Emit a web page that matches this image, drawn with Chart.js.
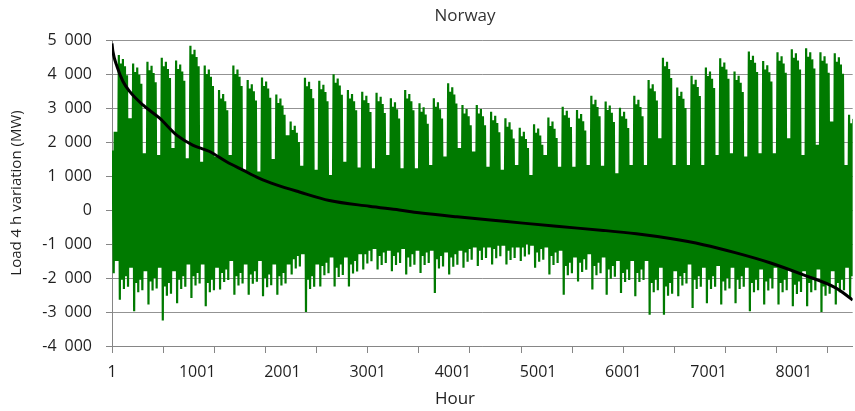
<!DOCTYPE html>
<html>
<head>
<meta charset="utf-8">
<title>Norway</title>
<script src="https://cdn.jsdelivr.net/npm/chart.js@4/dist/chart.umd.min.js"></script>
<style>
  body { margin: 0; background: #fff; overflow: hidden; }
  #wrap { width: 855px; height: 411px; position: relative; }
</style>
</head>
<body>
<div id="wrap"><canvas id="chart"></canvas></div>
<script>
// Weeks run Monday-Sunday; the year starts on a Friday (week 0 is partial)
const weekPeak = [2350, 4560, 4310, 4360, 4480, 4400, 4830, 4250, 3530, 4250, 3820, 3900, 3400, 2600,
  3890, 3800, 3990, 3530, 3480, 3450, 3290, 3530, 3140, 3290, 3730, 3090, 3090, 2890, 2700, 2420,
  2520, 2720, 3040, 2940, 3360, 3190, 3010, 3360, 3820, 4480, 3600, 3950, 4190, 4460, 4070, 4660,
  4380, 4640, 4730, 4760, 4640, 4610, 2800];
const weekGap = [2300, 2700, 1670, 1620, 1820, 1520, 1420, 1570, 1620, 1180, 1130, 1500, 2200, 1300,
  1180, 1030, 1420, 1250, 1230, 1620, 1230, 1230, 1320, 1570, 1820, 1720, 1270, 1180, 1320, 1030,
  1620, 1270, 1270, 1320, 1300, 1080, 1320, 1320, 2110, 1320, 1320, 1320, 1620, 1670, 1570, 1670,
  1670, 2110, 1620, 1920, 2600, 1320, 2000];
const weekTrough = [-2100, -2640, -2980, -2780, -3250, -2740, -2590, -2830, -2340, -2490, -2490, -2540,
  -2490, -1900, -3000, -2250, -2250, -2250, -1750, -1750, -1800, -1900, -1850, -2440, -1900, -1700,
  -1650, -1600, -1600, -1500, -1700, -1900, -2490, -2100, -2340, -2490, -2440, -2540, -3080, -3080,
  -2540, -2880, -2740, -2780, -2740, -2980, -2780, -2780, -2830, -2830, -3000, -2780, -2590];
const weekLow = [-1800, -2200, -2300, -2250, -2400, -2200, -2100, -2300, -2000, -2100, -2050, -2150,
  -2100, -1600, -2200, -1800, -1850, -1750, -1450, -1500, -1500, -1550, -1500, -1600, -1550, -1400,
  -1350, -1300, -1350, -1250, -1400, -1500, -1800, -1700, -1800, -1900, -2000, -2000, -2300, -2400,
  -2100, -2200, -2200, -2250, -2200, -2300, -2250, -2300, -2350, -2300, -2400, -2300, -2100];
const weekendLow = [-1500, -1700, -1800, -1700, -1800, -1600, -1600, -1700, -1500, -1600, -1500, -1600,
  -1600, -1300, -1600, -1400, -1400, -1300, -1150, -1200, -1150, -1200, -1200, -1250, -1200, -1100,
  -1100, -1050, -1100, -1050, -1100, -1200, -1400, -1300, -1400, -1500, -1500, -1500, -1700, -1800,
  -1600, -1700, -1650, -1700, -1700, -1750, -1700, -1750, -1800, -1750, -1800, -1700, -1600];
// weekday highs below the week's peak, Monday..Friday
const weekdayDrop = [0, 250, 120, 330, 600];
// weekday lows above/below the week's usual low, Monday..Friday (Monday uses the trough)
const weekdayLowShift = [0, 150, -120, 250, -60];

// Sorted (duration) curve
const durHours = [1, 12, 60, 130, 210, 363, 560, 760, 947, 1146, 1345, 1532, 1731, 1930, 2200, 2551,
  3019, 3370, 3603, 4048, 4632, 5217, 5767, 6153, 6551, 6937, 7323, 7720, 8106, 8492, 8691, 8760];
const durValues = [4900, 4660, 4220, 3780, 3480, 3090, 2700, 2200, 1910, 1720, 1420, 1180, 930, 740,
  530, 280, 110, 0, -80, -200, -340, -480, -600, -700, -840, -1020, -1260, -1550, -1900, -2290,
  -2650, -2800];

const xLabelHours = [1, 1001, 2001, 3001, 4001, 5001, 6001, 7001, 8001];
const xTickStep = 200;
const xMarkStep = 600;
const yTicks = [-4000, -3000, -2000, -1000, 0, 1000, 2000, 3000, 4000, 5000];

// one morning high and one evening low per day
const greenPoints = [];
for (let d = 0; d < 365; d++) {
  const w = Math.floor((d + 4) / 7);
  const dow = (d + 4) % 7;
  const weekend = dow >= 5;
  const hi = weekend ? weekGap[w] : weekPeak[w] - weekdayDrop[dow];
  const lo = weekend ? weekendLow[w] : (dow === 0 ? weekTrough[w] : weekLow[w] + weekdayLowShift[dow]);
  greenPoints.push({ x: d * 24 + 9, y: hi }, { x: d * 24 + 21, y: lo });
}
const durPoints = durHours.map((h, i) => ({ x: h, y: durValues[i] }));

const fmt = v => (v < 0 ? '-' : '') + Math.abs(v).toString().replace(/\B(?=(\d{3})+(?!\d))/g, '\u2002');

const FONT = "'Open Sans', sans-serif";
const TEXT = '#1f1f1f';
const GRID = '#939393';

// chart title and x-axis title sit where Excel put them
const textPlugin = {
  id: 'excelText',
  afterDraw(chart) {
    const ctx = chart.ctx;
    ctx.save();
    ctx.textAlign = 'center';
    ctx.textBaseline = 'middle';
    ctx.fillStyle = '#333333';
    ctx.font = "17px " + FONT;
    ctx.fillText('Norway', 465, 16);
    ctx.fillStyle = TEXT;
    ctx.font = "17px " + FONT;
    ctx.fillText('Hour', 455, 399);
    ctx.restore();
  }
};

new Chart(document.getElementById('chart'), {
  type: 'line',
  data: {
    datasets: [
      {
        label: 'Sorted',
        data: durPoints,
        borderColor: '#000000',
        borderWidth: 3,
        pointRadius: 0,
        cubicInterpolationMode: 'monotone',
        order: 0
      },
      {
        label: 'Load 4 h variation',
        data: greenPoints,
        borderColor: '#007a00',
        borderWidth: 2.2,
        pointRadius: 0,
        tension: 0,
        order: 1
      }
    ]
  },
  options: {
    responsive: true,
    maintainAspectRatio: false,
    animation: false,
    events: [],
    layout: { padding: { top: 40, right: 0, left: 0, bottom: 0 } },
    plugins: {
      legend: { display: false },
      tooltip: { enabled: false },
      title: { display: false }
    },
    scales: {
      x: {
        type: 'linear',
        min: 1,
        max: 8691,
        afterFit: s => { s.height = 65; },
        afterBuildTicks: s => {
          const t = [1];
          for (let h = 1 + xTickStep; h <= 8691; h += xTickStep) t.push(h);
          s.ticks = t.map(v => ({ value: v }));
        },
        border: { display: true, color: '#868686', width: 1 },
        grid: {
          drawOnChartArea: false,
          drawTicks: true,
          tickLength: 7,
          tickColor: c => ((c.tick && (c.tick.value - 1) % xMarkStep === 0) ? '#868686' : 'rgba(0,0,0,0)')
        },
        ticks: {
          autoSkip: false,
          maxRotation: 0,
          padding: 10,
          color: TEXT,
          font: { family: FONT, size: 16 },
          callback: v => (xLabelHours.includes(v) ? String(v) : '')
        },
        title: { display: false }
      },
      y: {
        min: -4000,
        max: 5000,
        afterFit: s => { s.width = 112; },
        afterBuildTicks: s => { s.ticks = yTicks.map(v => ({ value: v })); },
        border: { display: true, color: '#868686', width: 1 },
        grid: {
          color: GRID,
          lineWidth: 1,
          drawTicks: true,
          tickLength: 6,
          tickColor: '#868686'
        },
        ticks: {
          padding: 14,
          color: TEXT,
          font: { family: FONT, size: 16 },
          callback: v => fmt(v)
        },
        title: {
          display: true,
          text: 'Load 4 h variation (MW)',
          color: TEXT,
          font: { family: FONT, size: 15 },
          padding: { top: 8, bottom: 0 }
        }
      }
    }
  },
  plugins: [textPlugin]
});
</script>
</body>
</html>
